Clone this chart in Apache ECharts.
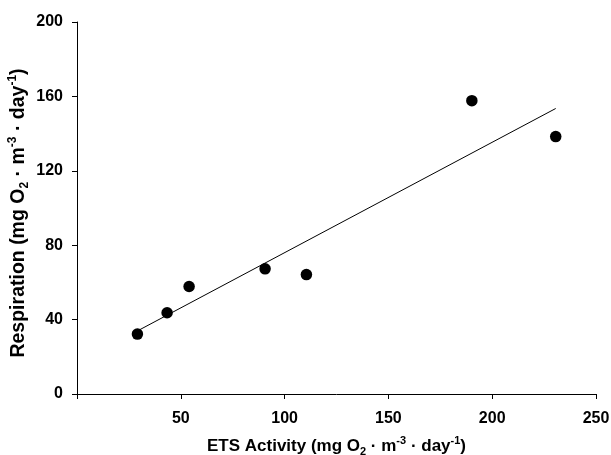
<!DOCTYPE html>
<html>
<head>
<meta charset="utf-8">
<script src="https://cdn.jsdelivr.net/npm/echarts@6/dist/echarts.min.js"></script>
<style>html,body{margin:0;padding:0;background:#fff}#c{width:611px;height:455px}</style>
</head>
<body>
<div id="c"></div>
<script>
// Data
const etsActivity = [29.1, 43.4, 54.0, 90.6, 110.5, 190.2, 230.6];
const respiration = [32.2, 43.7, 57.8, 67.3, 64.2, 157.7, 138.4];
// Fitted line endpoints
const fitX = [29.1, 230.6];
const fitY = [33.9, 153.5];
const xTicks = [0, 50, 100, 150, 200, 250];
const yTicks = [0, 40, 80, 120, 160, 200];

const chart = echarts.init(document.getElementById('c'));
const font = 'Liberation Sans, Arial, sans-serif';
function makeRich(size, lh) {
  const s = Math.round(size * 0.62);
  return {
    m: {fontSize: size, fontWeight: 'bold', fontFamily: font, color: '#000', lineHeight: lh, verticalAlign: 'middle'},
    sup: {fontSize: s, fontWeight: 'bold', fontFamily: font, color: '#000', lineHeight: s, verticalAlign: 'top'},
    sub: {fontSize: s, fontWeight: 'bold', fontFamily: font, color: '#000', lineHeight: s, verticalAlign: 'bottom'}
  };
}
const axisLineStyle = {color: '#000', width: 1};
chart.setOption({
  animation: false,
  backgroundColor: '#fff',
  grid: {left: 77, right: 15, top: 22, bottom: 61, containLabel: false, outerBoundsMode: 'none'},
  xAxis: {
    type: 'value', min: xTicks[0], max: xTicks[xTicks.length - 1], interval: 50,
    splitLine: {show: false},
    axisLine: {show: true, onZero: false, lineStyle: axisLineStyle},
    axisTick: {show: true, length: 5, lineStyle: axisLineStyle},
    axisLabel: {
      margin: 17, fontSize: 16, fontWeight: 'bold', fontFamily: font, color: '#000',
      formatter: v => (v === 0 ? '' : String(v))
    },
    name: '{m|ETS Activity (mg O}{sub|2}{m| · m}{sup|-3}{m| · day}{sup|-1}{m|)}',
    nameLocation: 'middle', nameGap: 41,
    nameTextStyle: {rich: makeRich(17, 22)}
  },
  yAxis: {
    type: 'value', min: yTicks[0], max: yTicks[yTicks.length - 1], interval: 40,
    splitLine: {show: false},
    axisLine: {show: true, onZero: false, lineStyle: axisLineStyle},
    axisTick: {show: true, length: 5, lineStyle: axisLineStyle},
    axisLabel: {margin: 14, fontSize: 16, fontWeight: 'bold', fontFamily: font, color: '#000'},
    name: '{m|Respiration (mg O}{sub|2}{m| · m}{sup|-3}{m| · day}{sup|-1}{m|)}',
    nameLocation: 'middle', nameGap: 46, nameRotate: 90, nameMoveOverlap: false,
    nameTextStyle: {rich: makeRich(19.5, 24), padding: [0, 10, 0, 0]}
  },
  series: [
    {
      type: 'line',
      data: fitX.map((x, i) => [x, fitY[i]]),
      symbol: 'none',
      lineStyle: {color: '#000', width: 1},
      z: 2
    },
    {
      type: 'scatter',
      data: etsActivity.map((x, i) => [x, respiration[i]]),
      symbol: 'circle', symbolSize: 11.5,
      itemStyle: {color: '#000', opacity: 1},
      z: 3
    }
  ]
});
</script>
</body>
</html>
